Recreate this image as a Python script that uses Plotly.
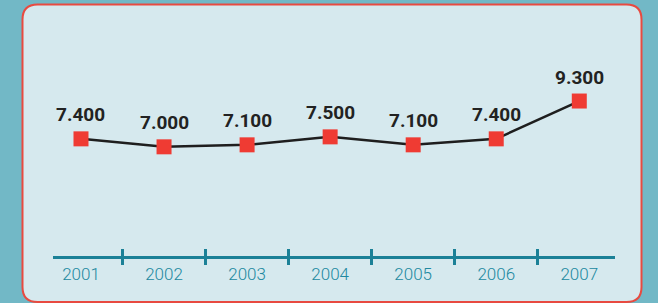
import plotly.graph_objects as go

years = ["2001", "2002", "2003", "2004", "2005", "2006", "2007"]
values = [7400, 7000, 7100, 7500, 7100, 7400, 9300]
separators_x = [0.5, 1.5, 2.5, 3.5, 4.5, 5.5]

W, H = 658, 303
ML, MR, MT, MB = 53, 43, 10, 47
pw, ph = W - ML - MR, H - MT - MB

def px(x):
    return (x - ML) / pw

def py(y):
    return 1 - (y - MT) / ph

# rounded panel path in paper coords
x0, x1, y0, y1, r = 22.5, 641.5, 4.5, 302, 15
path = (
    f"M {px(x0 + r)},{py(y0)} L {px(x1 - r)},{py(y0)} "
    f"Q {px(x1)},{py(y0)} {px(x1)},{py(y0 + r)} "
    f"L {px(x1)},{py(y1 - r)} Q {px(x1)},{py(y1)} {px(x1 - r)},{py(y1)} "
    f"L {px(x0 + r)},{py(y1)} Q {px(x0)},{py(y1)} {px(x0)},{py(y1 - r)} "
    f"L {px(x0)},{py(y0 + r)} Q {px(x0)},{py(y0)} {px(x0 + r)},{py(y0)} Z"
)

xs = list(range(len(years)))
teal = "#1b8197"

fig = go.Figure()
fig.add_trace(go.Scatter(
    x=xs, y=values, mode="lines+markers",
    line=dict(color="#1e1e1e", width=2.5),
    marker=dict(symbol="square", size=15, color="#ef3b33"),
    hoverinfo="skip", showlegend=False,
))
# empty helper trace so the overlay axis (upper half of tick marks) renders
fig.add_trace(go.Scatter(x=[None], y=[None], xaxis="x2", mode="markers",
                         hoverinfo="skip", showlegend=False))

annotations = []
for xi, v in zip(xs, values):
    annotations.append(dict(
        x=xi, y=v, xref="x", yref="y", text=f"{v:,}".replace(",", "."),
        showarrow=False, yshift=24,
        font=dict(family="Roboto", size=19, color="#222222", weight="bold"),
    ))

xr = [-0.337, 6.43]
fig.update_layout(
    width=W, height=H,
    margin=dict(l=ML, r=MR, t=MT, b=MB),
    paper_bgcolor="#72b8c6",
    plot_bgcolor="rgba(0,0,0,0)",
    showlegend=False,
    shapes=[dict(type="path", path=path, xref="paper", yref="paper",
                 fillcolor="#d6e9ee", line=dict(color="#e84a40", width=2),
                 layer="below")],
    annotations=annotations,
    xaxis=dict(
        range=xr, tickvals=xs, ticktext=years, ticks="",
        showline=True, linecolor=teal, linewidth=3,
        showgrid=False, zeroline=False,
        tickfont=dict(family="Roboto", size=17, color="#2088a0", weight=300),
        ticklabelstandoff=1,
        minor=dict(tickvals=separators_x, ticks="outside", ticklen=6,
                   tickwidth=3, tickcolor=teal, showgrid=False),
    ),
    xaxis2=dict(
        range=xr, overlaying="x", side="top", anchor="free", position=0,
        tickvals=separators_x, ticktext=[""] * len(separators_x),
        ticks="outside", ticklen=7, tickwidth=3,
        tickcolor=teal, showticklabels=False, showline=False,
        showgrid=False, zeroline=False,
    ),
    yaxis=dict(range=[1516, 13872], visible=False, showgrid=False),
)

fig.write_html("out.html", post_script="document.body.style.margin='0';",
               config={"displayModeBar": False})
